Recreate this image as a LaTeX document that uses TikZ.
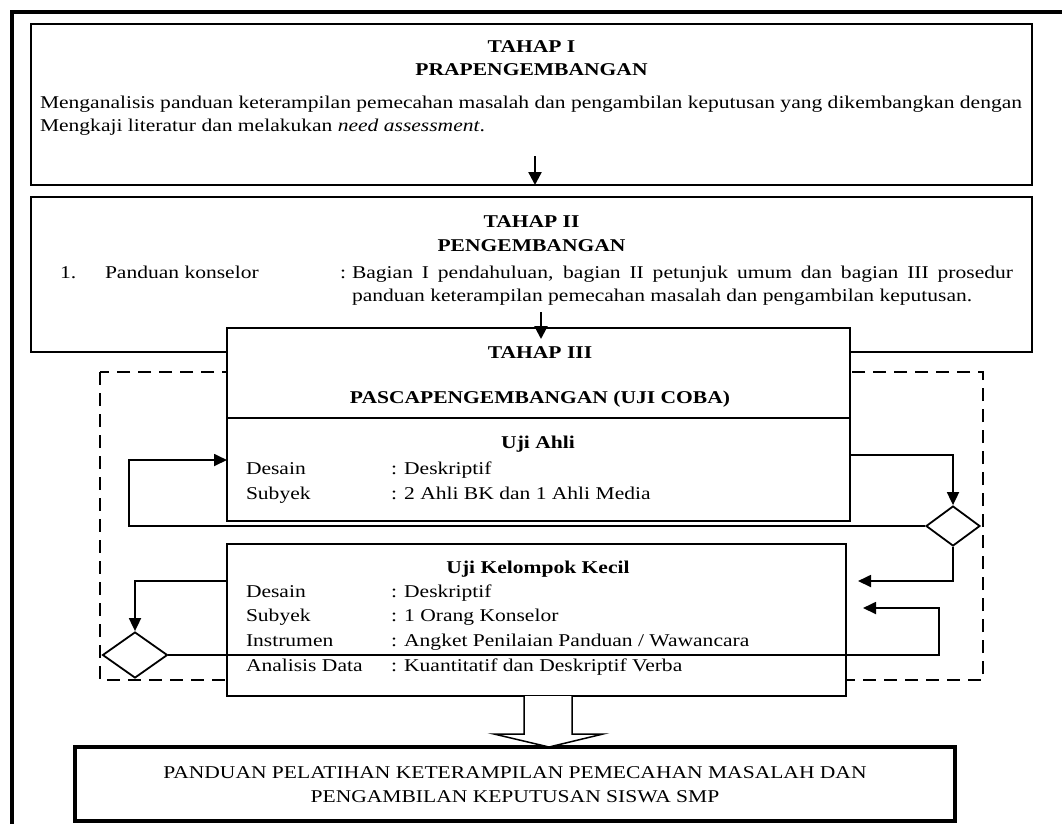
\documentclass[tikz,border=0pt]{standalone}
\usepackage{fontspec}
\setmainfont{Liberation Serif}
\usepackage{graphicx}
\usetikzlibrary{arrows.meta,shapes.geometric,calc}
\newlength{\reflen}
\newcommand{\hx}[1]{\scalebox{\hs}[1]{#1}}
\begin{document}
\settowidth{\reflen}{\fontsize{18}{22}\selectfont Menganalisis panduan keterampilan pemecahan masalah dan pengambilan keputusan yang dikembangkan dengan}%
\pgfmathsetmacro{\hs}{982/\reflen}%
\pgfmathsetmacro{\jw}{661/\hs}%
\begin{tikzpicture}[x=1pt,y=-1pt,
  box/.style={draw, line width=1.8pt, fill=white, inner sep=0pt, outer sep=0pt, anchor=north west},
  txt/.style={inner sep=0pt, outer sep=0pt, font=\fontsize{18}{22}\selectfont},
  lbl/.style={txt, anchor=base west},
  ctr/.style={txt, anchor=base},
  hd/.style={ctr, font=\fontsize{18}{22}\selectfont\bfseries},
  fintxt/.style={ctr, font=\fontsize{18}{22}\selectfont},
  conn/.style={line width=1.8pt},
  arr/.style={conn, -{Triangle[width=12pt,length=13pt]}},
  bigarr/.style={line width=2.4pt, -{Triangle[width=13pt,length=13pt]}},
  dec/.style={diamond, draw, line width=1.8pt, fill=white, inner sep=0pt},
  frame/.style={line width=4.5pt, line join=miter},
  dashbox/.style={line width=2.9pt, dash pattern=on 13pt off 8pt},
  hollow/.style={line width=1.5pt, fill=white},
]
\useasboundingbox (0,0) rectangle (1062,823);

% outer frame (cropped on right and bottom)
\coordinate (fbl) at (12,835);
\coordinate (ftl) at (12,12);
\coordinate (ftr) at (1075,12);
\draw[frame] (fbl) -- (ftl) -- (ftr);

% dashed enclosure
\coordinate (dtl) at (100,372);
\coordinate (dbr) at (983,680);
\draw[dashbox] (dtl) rectangle (dbr);

% boxes
\node[box, minimum width=1001pt, minimum height=161pt] (b1) at (31,24) {};
\node[box, minimum width=1001pt, minimum height=155pt] (b2) at (31,197) {};
\node[box, minimum width=623pt, minimum height=90pt] (b3) at (227,328) {};
\node[box, minimum width=623pt, minimum height=103pt] (u1) at (227,418) {};
\node[box, minimum width=619pt, minimum height=152pt] (u2) at (227,544) {};
\node[box, line width=3.2pt, minimum width=880pt, minimum height=74pt] (fin) at (75,747) {};

% Box I text
\node[hd] (t1a) at (531.5,52) {\hx{TAHAP I}};
\node[hd] (t1b) at (531.5,75) {\hx{PRAPENGEMBANGAN}};
\node[lbl] (t1c) at (40,108) {\hx{Menganalisis panduan keterampilan pemecahan masalah dan pengambilan keputusan yang dikembangkan dengan}};
\node[lbl] (t1d) at (40,131) {\hx{Mengkaji literatur dan melakukan \textit{need assessment}.}};

% Box II text
\node[hd] (t2a) at (531.5,227) {\hx{TAHAP II}};
\node[hd] (t2b) at (531.5,251) {\hx{PENGEMBANGAN}};
\node[lbl] (t2c) at (60,278) {\hx{1.}};
\node[lbl] (t2d) at (105,278) {\hx{Panduan konselor}};
\node[lbl] (t2e) at (340,278) {\hx{:}};
\node[lbl] (t2f) at (352,278) {\hx{\makebox[\jw pt][s]{Bagian I pendahuluan, bagian II petunjuk umum dan bagian III prosedur}}};
\node[lbl] (t2g) at (352,301) {\hx{panduan keterampilan pemecahan masalah dan pengambilan keputusan.}};

% Box III text
\node[hd] (t3a) at (540,358) {\hx{TAHAP III}};
\node[hd] (t3b) at (540,403) {\hx{PASCAPENGEMBANGAN (UJI COBA)}};

% Uji Ahli
\node[hd] (t4a) at (538,448) {\hx{Uji Ahli}};
\node[lbl] (t4b) at (246,474) {\hx{Desain}};
\node[lbl] (t4c) at (391,474) {\hx{: Deskriptif}};
\node[lbl] (t4d) at (246,499) {\hx{Subyek}};
\node[lbl] (t4e) at (391,499) {\hx{: 2 Ahli BK dan 1 Ahli Media}};

% Uji Kelompok Kecil
\node[hd] (t5a) at (538,573) {\hx{Uji Kelompok Kecil}};
\node[lbl] (t5b) at (246,597) {\hx{Desain}};
\node[lbl] (t5c) at (391,597) {\hx{: Deskriptif}};
\node[lbl] (t5d) at (246,621) {\hx{Subyek}};
\node[lbl] (t5e) at (391,621) {\hx{: 1 Orang Konselor}};
\node[lbl] (t5f) at (246,646) {\hx{Instrumen}};
\node[lbl] (t5g) at (391,646) {\hx{: Angket Penilaian Panduan / Wawancara}};
\node[lbl] (t5h) at (246,671) {\hx{Analisis Data}};
\node[lbl] (t5i) at (391,671) {\hx{: Kuantitatif dan Deskriptif Verba}};

% final box text
\node[fintxt] (t6a) at (515,778) {\hx{PANDUAN PELATIHAN KETERAMPILAN PEMECAHAN MASALAH DAN}};
\node[fintxt] (t6b) at (515,802) {\hx{PENGAMBILAN KEPUTUSAN SISWA SMP}};

% vertical arrows between stages
\coordinate (a1s) at (535,156);
\draw[bigarr] (a1s) -- (a1s |- b1.south);
\coordinate (a2s) at (541,312);
\coordinate (a2e) at (541,339);
\draw[bigarr] (a2s) -- (a2e);

% decision diamonds
\node[dec, minimum width=54pt, minimum height=40pt] (d1) at (953,526) {};
\node[dec, minimum width=65pt, minimum height=46pt] (d2) at (135,655) {};

% Uji Ahli -> right diamond
\coordinate (p1) at (953,455);
\draw[arr] (u1.east |- p1) -- (p1) -- (d1.north);
% right diamond -> Uji Kelompok Kecil
\coordinate (p2) at (953,581);
\coordinate (p2e) at (858,581);
\draw[arr] (d1.south) -- (p2) -- (p2e);
% right diamond -> back to Uji Ahli
\coordinate (r1) at (129,526);
\coordinate (r2) at (129,460);
\draw[arr] (d1.west) -- (r1) -- (r2) -- (u1.west |- r2);
% Uji Kelompok Kecil -> left diamond
\coordinate (q1) at (135,581);
\draw[arr] (u2.west |- q1) -- (q1) -- (d2.north);
% left diamond -> back to Uji Kelompok Kecil
\coordinate (p3) at (939,655);
\coordinate (p4) at (939,608);
\coordinate (p4e) at (863,608);
\draw[arr] (d2.east) -- (p3) -- (p4) -- (p4e);

% hollow block arrow to final box
\coordinate (h1) at (524,696);
\coordinate (h2) at (524,734);
\coordinate (h3) at (494,734);
\coordinate (h4) at (549,747);
\coordinate (h5) at (603,734);
\coordinate (h6) at (572,734);
\coordinate (h7) at (572,696);
\draw[hollow] (h1) -- (h2) -- (h3) -- (h4) -- (h5) -- (h6) -- (h7);
\end{tikzpicture}
\end{document}
